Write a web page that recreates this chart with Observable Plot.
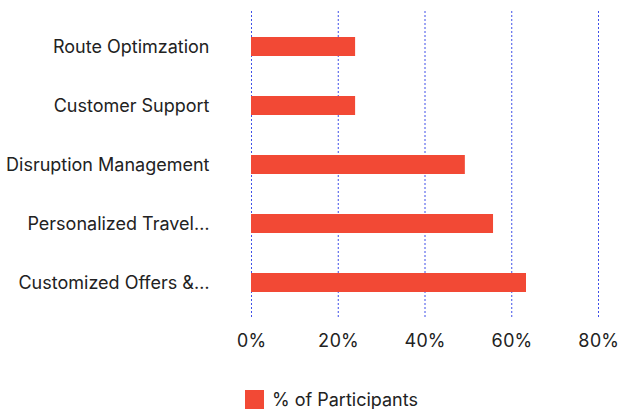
<!DOCTYPE html>
<html>
<head>
<meta charset="utf-8">
<script src="https://cdn.jsdelivr.net/npm/d3@7"></script>
<script src="https://cdn.jsdelivr.net/npm/@observablehq/plot@0.6"></script>
<style>
  body { margin: 0; background: #fff; font-family: Inter, "Noto Sans", sans-serif; }
  #legend { position: absolute; left: 245px; top: 389px; display: flex; align-items: center; font-size: 18px; color: #222; }
  #legend .sw { width: 19px; height: 19px; background: #f24935; margin-right: 8px; }
</style>
</head>
<body>
<div id="chart"></div>
<div id="legend"><div class="sw"></div><span>% of Participants</span></div>
<script>
const categories = ["Route Optimzation", "Customer Support", "Disruption Management", "Personalized Travel\u2026", "Customized Offers &\u2026"];
const values = [24, 24, 49.3, 55.8, 63.4];
const xTicks = [0, 20, 40, 60, 80];
const seriesName = "% of Participants";

const data = categories.map((c, i) => ({category: c, value: values[i]}));

const chart = Plot.plot({
  width: 618,
  height: 370,
  marginLeft: 251,
  marginRight: 20,
  marginTop: 11,
  marginBottom: 51,
  style: {fontFamily: "Inter, 'Noto Sans', sans-serif", fontSize: "18px", color: "#222"},
  x: {domain: [0, 80], ticks: xTicks, label: null},
  y: {domain: categories, padding: 0.2, label: null},
  marks: [
    Plot.ruleX(xTicks, {stroke: "#3f4fe8", strokeDasharray: "2 2", strokeWidth: 1}),
    Plot.barX(data, {y: "category", x: "value", fill: "#f24935", insetTop: 14, insetBottom: 14}),
    Plot.axisX({ticks: xTicks, tickSize: 0, tickPadding: 15, tickFormat: d => d + "%", fontSize: 18, fill: "#222", label: null}),
    Plot.axisY({tickSize: 0, tickPadding: 42, fontSize: 18, fill: "#222", label: null})
  ]
});
document.getElementById("chart").appendChild(chart);
</script>
</body>
</html>
